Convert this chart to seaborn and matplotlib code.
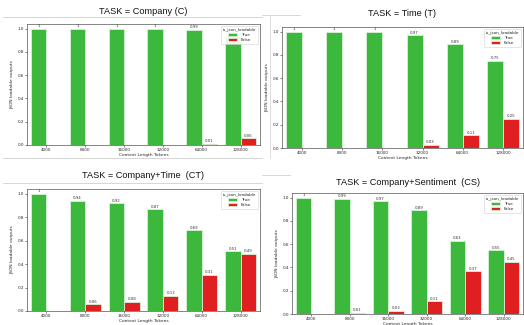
import numpy as np
import pandas as pd
import matplotlib
matplotlib.use("Agg")
import matplotlib.pyplot as plt
from matplotlib.lines import Line2D
import seaborn as sns

sns.set_theme(style="white")
plt.rcParams["font.family"] = ["DejaVu Sans"]

tokens = ["4000", "8000", "16000", "32000", "64000", "128000"]

titles = ["TASK = Company (C)", "TASK = Time (T)",
          "TASK = Company+Time  (CT)", "TASK = Company+Sentiment  (CS)"]

true_c = [1, 1, 1, 1, 0.99, 0.94]
false_c = [np.nan, np.nan, np.nan, np.nan, 0.01, 0.06]
true_t = [1, 1, 1, 0.97, 0.89, 0.75]
false_t = [np.nan, np.nan, np.nan, 0.03, 0.11, 0.25]
true_ct = [1, 0.94, 0.92, 0.87, 0.69, 0.51]
false_ct = [np.nan, 0.06, 0.08, 0.13, 0.31, 0.49]
true_cs = [1, 0.99, 0.97, 0.89, 0.63, 0.55]
false_cs = [np.nan, 0.01, 0.03, 0.11, 0.37, 0.45]

series = [(true_c, false_c), (true_t, false_t),
          (true_ct, false_ct), (true_cs, false_cs)]

palette = {"True": "#3cb83c", "False": "#e02020"}

W, H = 524, 325
fig = plt.figure(figsize=(W / 100, H / 100), dpi=100)

# panel boxes in pixels: left, top, right, bottom
boxes = [(27, 24, 260, 145), (282, 27, 523, 148),
         (27, 189, 260, 311), (292, 193, 523, 314)]
title_y = [12, 13, 176, 183]

# thin frame lines around each panel
frame_lines = [((3, 262), 17), ((3, 262), 158), ((262, 300), 15),
               ((3, 262), 183), ((262, 290), 175)]
for (x0, x1), y in frame_lines:
    fig.add_artist(Line2D([x0 / W, x1 / W], [1 - y / H, 1 - y / H],
                          transform=fig.transFigure, color="#d0d0d0", lw=0.6))
fig.add_artist(Line2D([270 / W, 270 / W], [1 - 15 / H, 1 - 158 / H],
                      transform=fig.transFigure, color="#d8d8d8", lw=0.6))

for (tv, fv), title, box, ty in zip(series, titles, boxes, title_y):
    l, t, r, b = box
    ax = fig.add_axes([l / W, 1 - b / H, (r - l) / W, (b - t) / H])
    df = pd.DataFrame({
        "tokens": tokens * 2,
        "frac": list(tv) + list(fv),
        "is_json_loadable": ["True"] * 6 + ["False"] * 6,
    })
    sns.barplot(data=df, x="tokens", y="frac", hue="is_json_loadable",
                order=tokens, hue_order=["True", "False"], palette=palette,
                edgecolor="#d8f0d8", linewidth=0.6, saturation=1, ax=ax)
    for cont in ax.containers:
        labels = ["" if np.isnan(v) else f"{v:g}" for v in cont.datavalues]
        ax.bar_label(cont, labels=labels, fontsize=2.8, padding=0.3, color="#333333")
    ax.set_ylim(0, 1.04)
    ax.set_xlabel("Context Length Tokens", fontsize=3.2, labelpad=1)
    ax.set_ylabel("JSON loadable outputs", fontsize=3.2, labelpad=2)
    ax.tick_params(axis="both", labelsize=3, length=1.2, width=0.4, pad=1)
    ax.tick_params(axis="both", which="both", bottom=True, left=True)
    for s in ax.spines.values():
        s.set_linewidth(0.5)
        s.set_color("#555555")
    leg = ax.legend(title="is_json_loadable", loc="upper right", fontsize=3,
                    title_fontsize=3, frameon=True, framealpha=0.9,
                    handlelength=2.2, handleheight=0.8, borderpad=0.4,
                    labelspacing=0.3)
    leg.get_frame().set_linewidth(0.4)
    fig.text((l + r) / 2 / W, 1 - ty / H, title, ha="center", va="center",
             fontsize=6.6, family=["Liberation Sans", "DejaVu Sans"],
             color="#111111")

fig.savefig("out.png", dpi=100, facecolor="white")
